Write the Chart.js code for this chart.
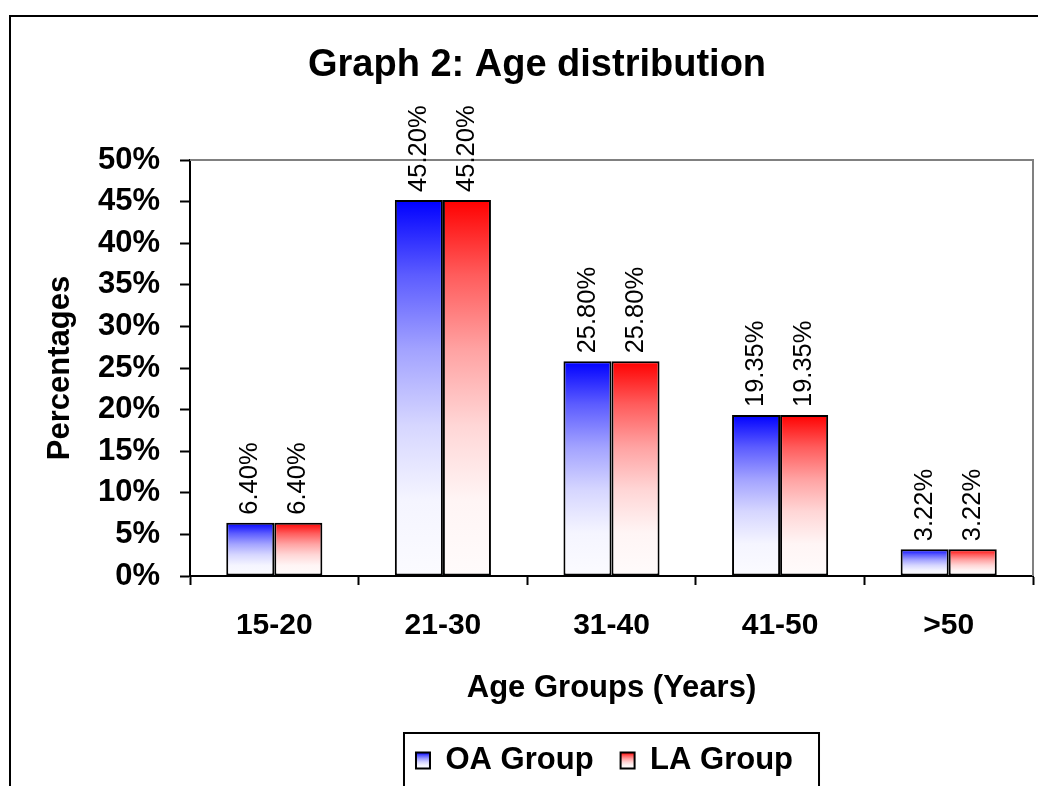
<!DOCTYPE html>
<html>
<head>
<meta charset="utf-8">
<title>Graph 2: Age distribution</title>
<script src="https://cdn.jsdelivr.net/npm/chart.js@4.4.1/dist/chart.umd.min.js"></script>
<style>
  html, body { margin: 0; padding: 0; background: #ffffff; overflow: hidden; }
  #wrap { position: relative; width: 1074px; height: 786px; }
  canvas { display: block; }
</style>
</head>
<body>
<div id="wrap"><canvas id="ageChart" width="1074" height="786"></canvas></div>
<script>
// Age groups and the share of patients (%) in each group
const categories = ['15-20', '21-30', '31-40', '41-50', '>50'];
const oaGroup = [6.40, 45.20, 25.80, 19.35, 3.22];
const laGroup = [6.40, 45.20, 25.80, 19.35, 3.22];
const seriesNames = ['OA Group', 'LA Group'];
const yMax = 50;
const yStep = 5;

const FONT = '"Liberation Sans", Arial, Helvetica, sans-serif';
const BLUE = [0, 0, 255];
const RED = [255, 0, 0];

// Vertical fade from the full colour at the top to nearly white at the bottom
function fade(ctx, rgb, top, bottom) {
  const g = ctx.createLinearGradient(0, top, 0, bottom);
  [0, 0.2, 0.4, 0.6, 0.8, 1].forEach(t => {
    const w = Math.min(0.985, 1 - Math.pow(1 - t, 2));
    const c = rgb.map(v => Math.round(v + (255 - v) * w));
    g.addColorStop(t, `rgb(${c[0]},${c[1]},${c[2]})`);
  });
  return g;
}

function barFill(rgb) {
  return (c) => {
    const chart = c.chart;
    if (!chart.chartArea || c.raw === undefined || !chart.scales.y) {
      return `rgb(${rgb.join(',')})`;
    }
    const y = chart.scales.y;
    return fade(chart.ctx, rgb, y.getPixelForValue(c.raw), y.getPixelForValue(0));
  };
}

// Page frame, plot frame, legend frame and rotated value labels
const decorations = {
  id: 'decorations',
  beforeDraw(chart) {
    const ctx = chart.ctx;
    ctx.save();
    ctx.fillStyle = '#ffffff';
    ctx.fillRect(0, 0, chart.width, chart.height);
    ctx.strokeStyle = '#000000';
    ctx.lineWidth = 2;
    ctx.strokeRect(10, 16, chart.width - 20, chart.height + 20);
    ctx.restore();
  },
  afterUpdate(chart, args, opts) {
    const legend = chart.legend;
    if (!legend || !legend.legendItems || !legend.legendHitBoxes) return;
    // nudge the legend a little to the left of the plot centre
    const shift = opts.legendShift || 0;
    legend.left += shift;
    legend.right += shift;
    legend.legendHitBoxes.forEach(hb => { hb.left += shift; });
    const rgbs = [BLUE, RED];
    const bh = legend.options.labels.boxHeight;
    legend.legendItems.forEach((item, i) => {
      const hb = legend.legendHitBoxes[i];
      if (!hb) return;
      const cy = hb.top + hb.height / 2;
      item.fillStyle = fade(chart.ctx, rgbs[i], cy - bh / 2, cy + bh / 2);
      item.lineWidth = 2;
    });
  },
  afterDatasetsDraw(chart) {
    const ctx = chart.ctx;
    const a = chart.chartArea;
    ctx.save();
    // grey top and right edges of the plot area
    ctx.strokeStyle = '#808080';
    ctx.lineWidth = 2;
    ctx.beginPath();
    ctx.moveTo(a.left, a.top);
    ctx.lineTo(a.right, a.top);
    ctx.lineTo(a.right, a.bottom);
    ctx.stroke();
    // value labels above each bar
    ctx.fillStyle = '#000000';
    ctx.font = `25.5px ${FONT}`;
    ctx.textAlign = 'left';
    ctx.textBaseline = 'middle';
    chart.data.datasets.forEach((ds, i) => {
      chart.getDatasetMeta(i).data.forEach((bar, j) => {
        ctx.save();
        ctx.translate(bar.x, bar.y - 8);
        ctx.rotate(-Math.PI / 2);
        ctx.fillText(ds.data[j].toFixed(2) + '%', 0, 0);
        ctx.restore();
      });
    });
    ctx.restore();
  },
  afterDraw(chart) {
    const legend = chart.legend;
    if (!legend || !legend.legendHitBoxes || !legend.legendHitBoxes.length) return;
    const boxes = legend.legendHitBoxes;
    const first = boxes[0];
    const last = boxes[boxes.length - 1];
    const left = first.left - 12;
    const right = last.left + last.width + 26;
    const top = legend.top + 15;
    const ctx = chart.ctx;
    ctx.save();
    ctx.strokeStyle = '#000000';
    ctx.lineWidth = 2;
    ctx.strokeRect(left, top, right - left, chart.height - top + 20);
    ctx.restore();
  }
};

new Chart(document.getElementById('ageChart'), {
  type: 'bar',
  data: {
    labels: categories,
    datasets: [
      {
        label: seriesNames[0],
        data: oaGroup,
        backgroundColor: barFill(BLUE),
        borderColor: '#000000',
        borderWidth: 2,
        borderSkipped: false,
        categoryPercentage: 0.57,
        barPercentage: 1.0
      },
      {
        label: seriesNames[1],
        data: laGroup,
        backgroundColor: barFill(RED),
        borderColor: '#000000',
        borderWidth: 2,
        borderSkipped: false,
        categoryPercentage: 0.57,
        barPercentage: 1.0
      }
    ]
  },
  options: {
    responsive: false,
    devicePixelRatio: 1,
    animation: false,
    events: [],
    layout: { padding: { left: 41, right: 41, top: 0, bottom: 0 } },
    plugins: {
      decorations: { legendShift: -7 },
      title: {
        display: true,
        text: 'Graph 2: Age distribution',
        color: '#000000',
        font: { family: FONT, size: 38, weight: 'bold' },
        padding: { top: 42.5, bottom: 71.9 }
      },
      legend: {
        display: true,
        position: 'bottom',
        fullSize: false,
        labels: {
          color: '#000000',
          font: { family: FONT, size: 31, weight: 'bold' },
          boxWidth: 14,
          boxHeight: 16,
          padding: 27
        }
      },
      tooltip: { enabled: false }
    },
    scales: {
      x: {
        afterFit: (scale) => { scale.height = 142; },
        grid: {
          offset: true,
          drawOnChartArea: false,
          drawTicks: true,
          tickLength: 9,
          tickColor: '#000000',
          tickWidth: 2
        },
        border: { display: true, color: '#000000', width: 2 },
        ticks: {
          color: '#000000',
          font: { family: FONT, size: 30, weight: 'bold' },
          padding: 23,
          maxRotation: 0
        },
        title: {
          display: true,
          text: 'Age Groups (Years)',
          color: '#000000',
          font: { family: FONT, size: 31, weight: 'bold' },
          padding: { top: 0, bottom: 11.4 }
        }
      },
      y: {
        min: 0,
        max: yMax,
        afterFit: (scale) => { scale.width = 149; },
        grid: {
          drawOnChartArea: false,
          drawTicks: true,
          tickLength: 10,
          tickColor: '#000000',
          tickWidth: 2
        },
        border: { display: true, color: '#000000', width: 2 },
        ticks: {
          stepSize: yStep,
          color: '#000000',
          font: { family: FONT, size: 31, weight: 'bold' },
          padding: 20,
          callback: (v) => v + '%'
        },
        title: {
          display: true,
          text: 'Percentages',
          color: '#000000',
          font: { family: FONT, size: 31, weight: 'bold' },
          padding: { top: 0.4, bottom: 0 }
        }
      }
    }
  },
  plugins: [decorations]
});
</script>
</body>
</html>
